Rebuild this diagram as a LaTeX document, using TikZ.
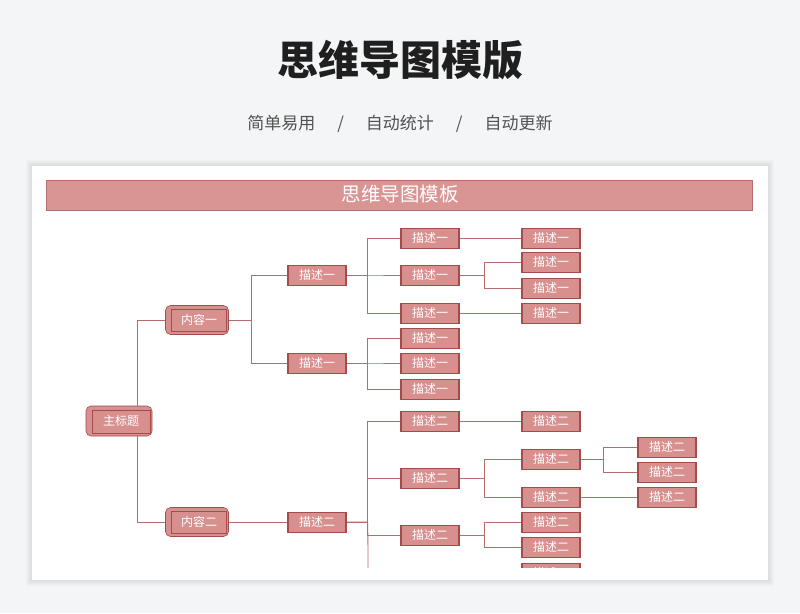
\documentclass[tikz,border=0pt]{standalone}
\usepackage{fontspec}
\setmainfont{Noto Sans CJK SC}
\usepackage{tikz}

\definecolor{pagebg}{HTML}{F4F5F7}
\definecolor{nodefill}{HTML}{D8908F}
\definecolor{nodeedge}{HTML}{A44B4C}
\definecolor{barfill}{HTML}{D99594}
\definecolor{linkcol}{HTML}{B46C6C}

\begin{document}
\begin{tikzpicture}[x=1pt,y=-1pt,
    desc/.style={draw=nodeedge,fill=nodefill,text=white,line width=0.6pt,
      minimum width=59pt,minimum height=20pt,inner sep=0pt,
      font=\fontsize{12}{14}\selectfont,
      path picture={\draw[nodeedge,line width=3pt]
        (path picture bounding box.north west) -- (path picture bounding box.south west)
        (path picture bounding box.north east) -- (path picture bounding box.south east);}},
    topic/.style={draw=nodeedge,fill=nodefill,text=white,line width=0.6pt,
      rounded corners=5pt,minimum height=29pt,inner sep=0pt,
      font=\fontsize{12}{14}\selectfont,
      path picture={\draw[nodeedge,line width=0.6pt,sharp corners]
        ([xshift=6pt,yshift=-4pt]path picture bounding box.north west) rectangle
        ([xshift=-2pt,yshift=3pt]path picture bounding box.south east);}},
    link/.style={draw=linkcol,line width=0.8pt}]
  \useasboundingbox (0,0) rectangle (800,613);
  \fill[pagebg] (0,0) rectangle (800,613);

  % heading and subtitle
  \node[font=\fontsize{41}{46}\bfseries,text=black!88] (title) at (400,60) {思维导图模版};
  \node[font=\fontsize{17}{20}\selectfont,text=black!68] (sub) at (400,124)
    {简单易用\hspace{22pt}/\hspace{22pt}自动统计\hspace{22pt}/\hspace{22pt}自动更新};

  % card with soft shadow
  \foreach \s in {1,...,6}
    \fill[black,opacity=0.014] (32-\s,166-\s) rectangle (768+\s,580+\s);
  \fill[white] (32,166) rectangle (768,580);
  \draw[nodeedge!80,fill=barfill,line width=0.7pt] (46,180) rectangle (752,210);
  \node[text=white,font=\fontsize{19.5}{22}\selectfont] (bar) at (400,194) {思维导图模板};

  \begin{scope}
  \clip (32,166) rectangle (768,567);
  % root and topics
  \node[topic,minimum width=66pt,minimum height=30pt] (main) at (119,421) {\hspace*{4pt}主标题};
  \node[topic,minimum width=63pt] (c1) at (197,320) {\hspace*{4pt}内容一};
  \node[topic,minimum width=63pt] (c2) at (197,522) {\hspace*{4pt}内容二};

  % level 2
  \node[desc] (a1) at (317,275) {描述一};
  \node[desc] (a2) at (317,363) {描述一};
  \node[desc] (b1) at (317,522) {描述二};

  % level 3
  \node[desc] (a11) at (430,238) {描述一};
  \node[desc] (a12) at (430,275) {描述一};
  \node[desc] (a13) at (430,313) {描述一};
  \node[desc] (a21) at (430,338) {描述一};
  \node[desc] (a22) at (430,363) {描述一};
  \node[desc] (a23) at (430,389) {描述一};
  \node[desc] (b11) at (430,421) {描述二};
  \node[desc] (b12) at (430,478) {描述二};
  \node[desc] (b13) at (430,535) {描述二};
  \coordinate (bend) at (368,570);

  % level 4
  \node[desc] (a111) at (551,238) {描述一};
  \node[desc] (a121) at (551,262) {描述一};
  \node[desc] (a122) at (551,288) {描述一};
  \node[desc] (a131) at (551,313) {描述一};
  \node[desc] (b111) at (551,421) {描述二};
  \node[desc] (b121) at (551,459) {描述二};
  \node[desc] (b122) at (551,497) {描述二};
  \node[desc] (b131) at (551,522) {描述二};
  \node[desc] (b132) at (551,547) {描述二};
  \node[desc] (b141) at (551,573) {描述二};

  % level 5
  \node[desc] (b1211) at (667,447) {描述二};
  \node[desc] (b1212) at (667,472) {描述二};
  \node[desc] (b1221) at (667,497) {描述二};

  % connectors
  \draw[link] ([xshift=18pt]main.north) |- (c1.west);
  \draw[link] ([xshift=18pt]main.south) |- (c2.west);
  \foreach \c in {a1,a2} \draw[link] (c1.east) -- ++(23,0) |- (\c.west);
  \draw[link] (c2.east) -- (b1.west);
  \foreach \c in {a11,a12,a13} \draw[link] (a1.east) -- ++(21,0) |- (\c.west);
  \foreach \c in {a21,a22,a23} \draw[link] (a2.east) -- ++(21,0) |- (\c.west);
  \foreach \c in {b11,b12,b13} \draw[link] (b1.east) -- ++(21,0) |- (\c.west);
  \draw[link] (b1.east) -- ++(21,0) -- (bend);
  \draw[link] (a11.east) -- (a111.west);
  \foreach \c in {a121,a122} \draw[link] (a12.east) -- ++(25,0) |- (\c.west);
  \draw[link] (a13.east) -- (a131.west);
  \draw[link] (b11.east) -- (b111.west);
  \foreach \c in {b121,b122} \draw[link] (b12.east) -- ++(25,0) |- (\c.west);
  \foreach \c in {b131,b132} \draw[link] (b13.east) -- ++(25,0) |- (\c.west);
  \foreach \c in {b1211,b1212} \draw[link] (b121.east) -- ++(23,0) |- (\c.west);
  \draw[link] (b122.east) -- (b1221.west);
  \end{scope}
\end{tikzpicture}
\end{document}
